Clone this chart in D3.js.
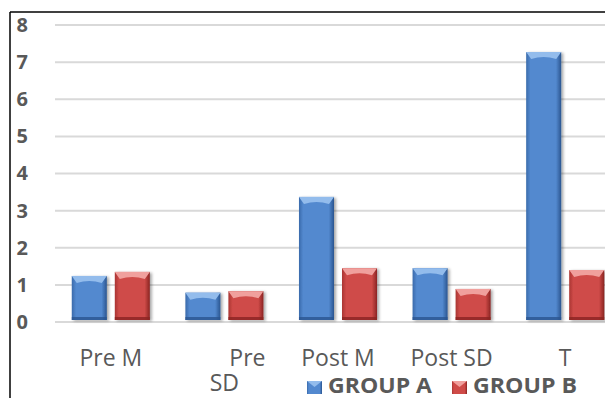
<!DOCTYPE html>
<html>
<head>
<meta charset="utf-8">
<script src="https://cdn.jsdelivr.net/npm/d3@7"></script>
<style>
  html, body { margin: 0; padding: 0; background: #fff; }
  svg { display: block; }
  text { font-family: "Open Sans", "Noto Sans", sans-serif; fill: #595959; }
</style>
</head>
<body>
<svg id="chart" width="605" height="398"></svg>
<script>
// Categories (each entry is a list of label lines)
const categories = ["Pre M", "Pre SD", "Post M", "Post SD", "T"];
const categoryLines = [["Pre M"], ["Pre", "SD"], ["Post M"], ["Post SD"], ["T"]];
const seriesNames = ["GROUP A", "GROUP B"];
const groupA = [1.24, 0.79, 3.37, 1.45, 7.27];
const groupB = [1.35, 0.83, 1.45, 0.89, 1.40];
const yTicks = [0, 1, 2, 3, 4, 5, 6, 7, 8];

const svg = d3.select("#chart");

const palette = {
  "GROUP A": { mid: "#5389cf", light: "#93bcec", dark: "#2a5590", edge: "#3a6aab" },
  "GROUP B": { mid: "#cf4b48", light: "#f0a09d", dark: "#8a2422", edge: "#a93533" }
};

// Gradients for the bevelled bars
const defs = svg.append("defs");
seriesNames.forEach((s, i) => {
  const c = palette[s];
  const g = defs.append("linearGradient").attr("id", "grad" + i)
    .attr("x1", "0").attr("x2", "1").attr("y1", "0").attr("y2", "0");
  g.append("stop").attr("offset", "0").attr("stop-color", c.edge);
  g.append("stop").attr("offset", "0.12").attr("stop-color", c.mid);
  g.append("stop").attr("offset", "0.85").attr("stop-color", c.mid);
  g.append("stop").attr("offset", "1").attr("stop-color", c.dark);
});
const shadow = defs.append("filter").attr("id", "shadow")
  .attr("x", "-20%").attr("y", "-10%").attr("width", "150%").attr("height", "130%");
shadow.append("feGaussianBlur").attr("in", "SourceAlpha").attr("stdDeviation", 1.5);
shadow.append("feOffset").attr("dx", 1.5).attr("dy", 1).attr("result", "b");
shadow.append("feComponentTransfer").append("feFuncA").attr("type", "linear").attr("slope", 0.35);
const merge = shadow.append("feMerge");
merge.append("feMergeNode");
merge.append("feMergeNode").attr("in", "SourceGraphic");

// Scales
const x0 = d3.scaleBand().domain(categories).range([54, 622])
  .paddingInner(0.313).paddingOuter(0.1565);
const x1 = d3.scaleBand().domain(seriesNames).range([0, x0.bandwidth()])
  .paddingInner(0.186).paddingOuter(0);
const y = d3.scaleLinear().domain([0, 8]).range([322, 25]);

// Gridlines
svg.append("g").selectAll("line").data(yTicks).join("line")
  .attr("x1", 55).attr("x2", 605)
  .attr("y1", d => y(d)).attr("y2", d => y(d))
  .attr("stroke", "#d9d9d9").attr("stroke-width", 2);

// Y axis labels
const yAxis = d3.axisLeft(y).tickValues(yTicks).tickSize(0).tickPadding(0).tickFormat(d3.format("d"));
const ya = svg.append("g").attr("transform", "translate(28,0)").call(yAxis);
ya.select(".domain").remove();
ya.selectAll("text")
  .style("font-family", '"Open Sans", sans-serif')
  .style("font-weight", "bold").style("font-size", "20px").attr("fill", "#595959");

// Bars
const rows = categories.map((c, i) => ({ cat: c, vals: [groupA[i], groupB[i]] }));
const groups = svg.append("g").selectAll("g").data(rows).join("g")
  .attr("transform", d => `translate(${x0(d.cat)},0)`);

groups.each(function (d) {
  const g = d3.select(this);
  d.vals.forEach((v, si) => {
    const s = seriesNames[si];
    const c = palette[s];
    const bx = x1(s), bw = x1.bandwidth();
    const top = y(v), bot = y(0) - 2;
    const bar = g.append("g").attr("filter", "url(#shadow)");
    bar.append("rect").attr("x", bx).attr("y", top).attr("width", bw).attr("height", bot - top)
      .attr("fill", `url(#grad${si})`);
    // top bevel
    const bev = 7;
    bar.append("path")
      .attr("d", `M${bx},${top} L${bx + bw},${top} L${bx + bw - 5},${top + bev} Q${bx + bw / 2},${top + bev - 4} ${bx + 5},${top + bev} Z`)
      .attr("fill", c.light);
    // bottom bevel
    bar.append("rect").attr("x", bx).attr("y", bot - 3).attr("width", bw).attr("height", 3)
      .attr("fill", c.dark).attr("opacity", 0.8);
  });
});

// Category labels
const xl = svg.append("g");
categoryLines.forEach((lines, i) => {
  const cx = x0(categories[i]) + x0.bandwidth() / 2;
  lines.forEach((ln, j) => {
    const dx = lines.length > 1 && j === 0 ? 23 : 0;
    xl.append("text").attr("x", cx + dx).attr("y", 366 + j * 25)
      .attr("text-anchor", "middle").style("font-size", "23px").text(ln);
  });
});

// Legend
const legendX = [307, 452];
const lg = svg.append("g");
seriesNames.forEach((s, i) => {
  const c = palette[s];
  lg.append("rect").attr("x", legendX[i]).attr("y", 381).attr("width", 15).attr("height", 13)
    .attr("fill", `url(#grad${i})`);
  lg.append("path")
    .attr("d", `M${legendX[i]},381 L${legendX[i] + 15},381 L${legendX[i] + 7.5},387 Z`)
    .attr("fill", c.light);
  lg.append("text").attr("x", legendX[i] + 21).attr("y", 393)
    .style("font-size", "21px").style("font-weight", "bold")
    .attr("textLength", 104).attr("lengthAdjust", "spacingAndGlyphs").text(s);
});

// Frame lines (top and left)
svg.append("line").attr("x1", 10).attr("x2", 605).attr("y1", 12).attr("y2", 12)
  .attr("stroke", "#000").attr("stroke-width", 1.5);
svg.append("line").attr("x1", 10).attr("x2", 10).attr("y1", 12).attr("y2", 398)
  .attr("stroke", "#000").attr("stroke-width", 1.5);
</script>
</body>
</html>
